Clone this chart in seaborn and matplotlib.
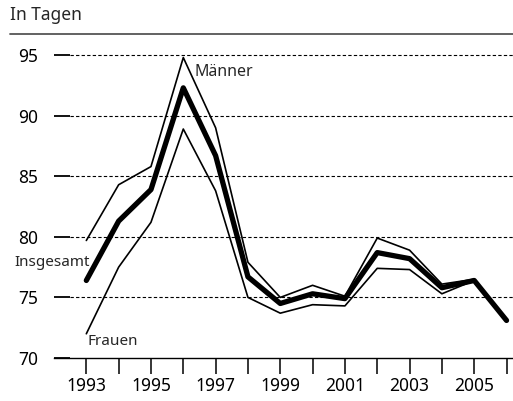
import pandas as pd
import matplotlib
matplotlib.use('Agg')
import matplotlib.pyplot as plt
import seaborn as sns
from matplotlib.lines import Line2D

# Data (days)
years = list(range(1993, 2007))
maenner = [79.7, 84.3, 85.8, 94.8, 89.0, 77.9, 75.0, 76.0, 75.1, 79.9, 78.9, 76.1, 76.5, 73.2]
insgesamt = [76.4, 81.3, 83.9, 92.3, 86.7, 76.7, 74.5, 75.3, 74.9, 78.7, 78.2, 75.8, 76.4, 73.1]
frauen = [72.0, 77.5, 81.2, 88.9, 83.8, 75.0, 73.7, 74.4, 74.3, 77.4, 77.3, 75.3, 76.4, 73.1]
y_ticks = [70, 75, 80, 85, 90, 95]
x_labels = [str(y) if y % 2 == 1 else '' for y in years]

df = pd.DataFrame({'Jahr': years, 'Männer': maenner,
                   'Insgesamt': insgesamt, 'Frauen': frauen})

sns.set_style('white')
plt.rcParams['font.family'] = ['Noto Sans', 'DejaVu Sans']

fig = plt.figure(figsize=(5.13, 4.01), dpi=100)
ax = fig.add_axes([54 / 513, 43 / 401, 1 - 54 / 513, 315 / 401])

sns.lineplot(data=df, x='Jahr', y='Männer', color='black', linewidth=1.2, ax=ax)
sns.lineplot(data=df, x='Jahr', y='Frauen', color='black', linewidth=1.2, ax=ax)
sns.lineplot(data=df, x='Jahr', y='Insgesamt', color='black', linewidth=3.8,
             solid_capstyle='round', solid_joinstyle='round', ax=ax)

ax.set_xlim(1992.0, 2006.2)
ax.set_ylim(70, 96)
ax.set_xlabel('')
ax.set_ylabel('')

# dashed guides start where the solid tick marks end
for v in y_ticks[1:]:
    ax.axhline(v, xmin=16 / 459, xmax=1, color='black', linewidth=0.8,
               linestyle=(0, (3, 2)), zorder=0)

ax.set_yticks(y_ticks)
ax.set_xticks(years)
ax.set_xticklabels(x_labels)
ax.tick_params(axis='y', direction='in', length=11.5, width=1.3, pad=11.5,
               labelsize=12.5, colors='black', left=True)
ax.tick_params(axis='x', direction='out', length=11.5, width=1.1, pad=2.5,
               labelsize=12.5, colors='black', bottom=True)
for t in ax.yaxis.get_major_ticks() + ax.xaxis.get_major_ticks():
    t.tick1line.set_color('#555555')

for side in ['top', 'right', 'left']:
    ax.spines[side].set_visible(False)
ax.spines['bottom'].set_color('black')
ax.spines['bottom'].set_linewidth(1.0)

ax.text(1996.35, 93.6, 'Männer', fontsize=11.5, va='center', ha='left')
ax.text(1993.1, 77.9, 'Insgesamt', fontsize=11, va='center', ha='right')
ax.text(1993.05, 71.4, 'Frauen', fontsize=11, va='center', ha='left')

fig.text(10 / 513, 1 - 15 / 401, 'In Tagen', fontsize=12.5, va='center', ha='left')
fig.add_artist(Line2D([10 / 513, 1], [1 - 34 / 401, 1 - 34 / 401],
                      transform=fig.transFigure, color='#555555', linewidth=1.3))

fig.savefig('out.png', dpi=100)
